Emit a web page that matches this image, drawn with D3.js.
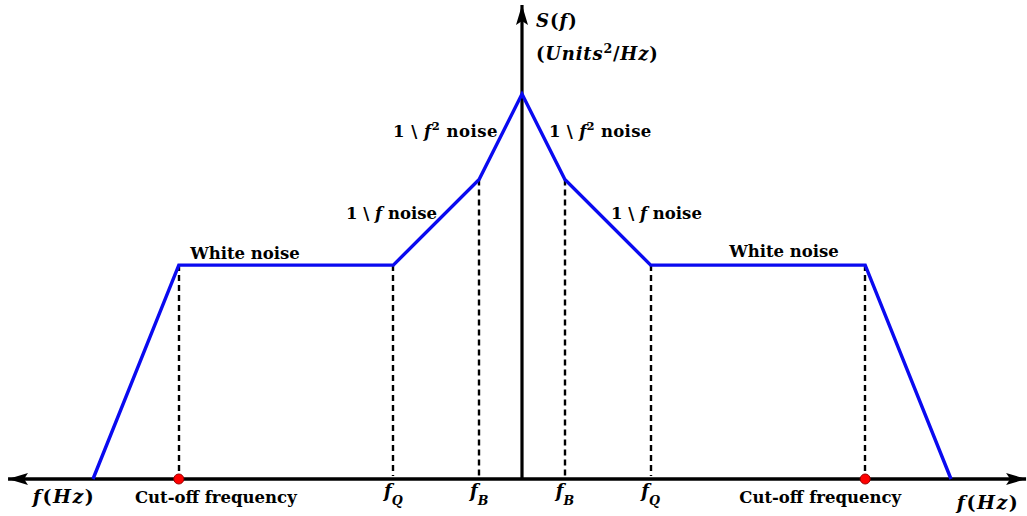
<!DOCTYPE html>
<html>
<head>
<meta charset="utf-8">
<script src="https://cdn.jsdelivr.net/npm/d3@7"></script>
<style>
  html, body { margin: 0; padding: 0; background: #fff; }
  svg { display: block; }
  text { font-family: "DejaVu Serif", serif; font-weight: bold; fill: #000; }
</style>
</head>
<body>
<svg id="chart" width="1027" height="516"></svg>
<script>
// Piecewise power spectral density S(f), symmetric about f = 0 (abstract units)
const freq  = [-10, -8, -3, -1, 0, 1, 3, 8, 10];
const power = [  0,  5,  5,  7, 9, 7, 5, 5,  0];

// Break points marked with dashed drop lines
const markFreq = [-8, -3, -1, 1, 3, 8];
// Cut-off frequencies (red dots on the axis)
const cutoffFreq = [-8, 8];
// Tick labels under the axis at the break points
const tickFreq  = [-3, -1, 1, 3];
const tickMain  = ["f", "f", "f", "f"];
const tickSub   = ["Q", "B", "B", "Q"];

const svg = d3.select("#chart");
const x = d3.scaleLinear().domain([-10, 10]).range([93, 951]);
const y = d3.scaleLinear().domain([0, 9]).range([479, 94]);

// arrow heads
const defs = svg.append("defs");
defs.append("marker")
  .attr("id", "arrow")
  .attr("viewBox", "0 0 20 12")
  .attr("refX", 20).attr("refY", 6)
  .attr("markerWidth", 20).attr("markerHeight", 12)
  .attr("markerUnits", "userSpaceOnUse")
  .attr("orient", "auto-start-reverse")
  .append("path")
  .attr("d", "M0,0 L20,6 L0,12 L4,6 Z")
  .attr("fill", "#000");

// frequency axis (both directions)
svg.append("line")
  .attr("x1", x(-11.98)).attr("x2", x(11.75))
  .attr("y1", y(0)).attr("y2", y(0))
  .attr("stroke", "#000").attr("stroke-width", 3.5)
  .attr("marker-start", "url(#arrow)")
  .attr("marker-end", "url(#arrow)");

// S(f) axis
svg.append("line")
  .attr("x1", x(0)).attr("x2", x(0))
  .attr("y1", y(0)).attr("y2", y(11.08))
  .attr("stroke", "#000").attr("stroke-width", 3.2)
  .attr("marker-end", "url(#arrow)");

// dashed drop lines
const pts = freq.map((f, i) => ({ f, p: power[i] }));
const at = f => pts.find(d => d.f === f).p;
svg.append("g").selectAll("line")
  .data(markFreq)
  .join("line")
  .attr("x1", d => Math.round(x(d))).attr("x2", d => Math.round(x(d)))
  .attr("y1", d => y(at(d))).attr("y2", y(0) - 3)
  .attr("stroke", "#000").attr("stroke-width", 2.4)
  .attr("stroke-dasharray", "6,4");

// spectrum curve
svg.append("path")
  .datum(pts)
  .attr("d", d3.line().x(d => x(d.f)).y(d => y(d.p)))
  .attr("fill", "none")
  .attr("stroke", "#0a0af0")
  .attr("stroke-width", 3.4)
  .attr("stroke-linejoin", "miter");

// cut-off markers
svg.append("g").selectAll("circle")
  .data(cutoffFreq)
  .join("circle")
  .attr("cx", d => x(d)).attr("cy", y(0))
  .attr("r", 5)
  .attr("fill", "#f00").attr("stroke", "#900").attr("stroke-width", 1);

const fs = 16.5;
function label(xp, yp, anchor, parts, size, spacing) {
  const sz = size || fs;
  const t = svg.append("text")
    .attr("x", xp).attr("y", yp)
    .attr("text-anchor", anchor)
    .attr("font-size", sz)
    .attr("letter-spacing", spacing || 0);
  parts.forEach(p => {
    const s = t.append("tspan").text(p.t);
    if (p.i) s.attr("font-style", "italic");
    if (p.sup) s.attr("baseline-shift", "super").attr("font-size", sz * 0.7);
    if (p.sub) s.attr("baseline-shift", "sub").attr("font-size", sz * 0.7);
  });
  return t;
}

// tick labels
tickFreq.forEach((f, i) => {
  label(x(f), 497, "middle", [{ t: tickMain[i], i: true }, { t: tickSub[i], i: true, sub: true }], 18);
});

// axis titles
label(536, 27, "start", [{ t: "S", i: true }, { t: "(" }, { t: "f", i: true }, { t: ")" }], 18, 1);
label(536, 60, "start", [{ t: "(" }, { t: "Units", i: true }, { t: "2", sup: true }, { t: "/" }, { t: "Hz", i: true }, { t: ")" }], 18, 0.8);
label(64, 503, "middle", [{ t: "f", i: true }, { t: "(" }, { t: "Hz", i: true }, { t: ")" }], 19, 1.5);
label(988, 509, "middle", [{ t: "f", i: true }, { t: "(" }, { t: "Hz", i: true }, { t: ")" }], 19, 1.5);

// cut-off labels
cutoffFreq.forEach(f => label(x(f) + (f < 0 ? 37 : -45), 503, "middle", [{ t: "Cut-off frequency" }]));

// noise region labels
const inv2 = [{ t: "1 \\ " }, { t: "f", i: true }, { t: "2", sup: true }, { t: " noise" }];
const inv1 = [{ t: "1 \\ " }, { t: "f", i: true }, { t: " noise" }];
label(498, 137, "end", inv2, 16.5, 0.5);
label(549, 137, "start", inv2, 16.5, 0.3);
label(437, 219, "end", inv1, 16.5);
label(611, 219, "start", inv1, 16.5);
label(245, 259, "middle", [{ t: "White noise" }], 16.5);
label(784, 257, "middle", [{ t: "White noise" }], 16.5);
</script>
</body>
</html>
